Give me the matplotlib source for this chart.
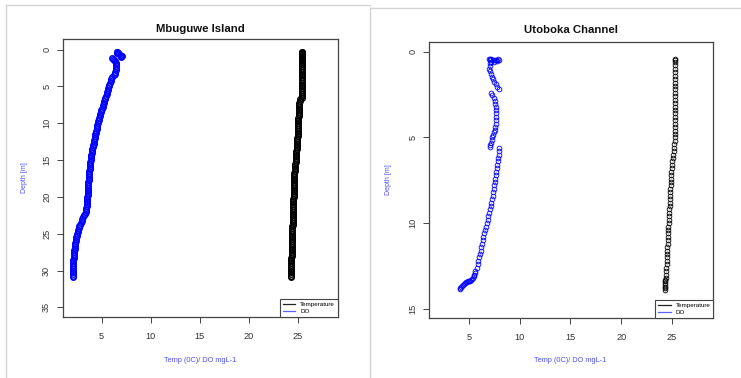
import matplotlib
matplotlib.use("Agg")
import matplotlib.pyplot as plt
from matplotlib.lines import Line2D

plt.rcParams['font.family'] = ['Liberation Sans', 'DejaVu Sans']

# ---------------- data: Mbuguwe Island ----------------
mb_depth = [0.30, 0.35, 0.40, 0.45, 0.50, 0.60, 0.70, 0.80, 0.90, 1.00, 1.10, 1.20, 1.35, 1.50,
            1.75, 2.00, 2.25, 2.50, 2.75, 3.00, 3.25, 3.50, 3.75, 4.00, 4.25, 4.50, 4.75, 5.00,
            5.25, 5.50, 5.75, 6.00, 6.25, 6.50, 6.75, 7.00, 7.25, 7.50, 7.75, 8.00, 8.25, 8.50,
            8.75, 9.00, 9.25, 9.50, 9.75, 10.00, 10.25, 10.50, 10.75, 11.00, 11.25, 11.50, 11.75,
            12.00, 12.25, 12.50, 12.75, 13.00, 13.25, 13.50, 13.75, 14.00, 14.25, 14.50, 14.75,
            15.00, 15.25, 15.50, 15.75, 16.00, 16.25, 16.50, 16.75, 17.00, 17.25, 17.50, 17.75,
            18.00, 18.25, 18.50, 18.75, 19.00, 19.25, 19.50, 19.75, 20.00, 20.25, 20.50, 20.75,
            21.00, 21.25, 21.50, 21.75, 22.00, 22.25, 22.50, 22.75, 23.00, 23.25, 23.50, 23.75,
            24.00, 24.25, 24.50, 24.75, 25.00, 25.25, 25.50, 25.75, 26.00, 26.25, 26.50, 26.75,
            27.00, 27.25, 27.50, 27.75, 28.00, 28.25, 28.50, 28.75, 29.00, 29.25, 29.50, 29.75,
            30.00, 30.25, 30.50, 30.75, 30.90]
mb_do = [6.55, 6.60, 6.55, 6.62, 6.65, 6.75, 6.88, 7.00, 7.05, 6.95, 6.10, 6.15, 6.28, 6.38,
         6.45, 6.50, 6.50, 6.48, 6.45, 6.40, 6.32, 6.22, 6.10, 6.00, 5.92, 5.85, 5.78, 5.72,
         5.66, 5.61, 5.55, 5.50, 5.45, 5.39, 5.34, 5.28, 5.22, 5.16, 5.10, 5.04, 4.98, 4.92,
         4.86, 4.80, 4.75, 4.70, 4.65, 4.60, 4.56, 4.52, 4.49, 4.45, 4.41, 4.37, 4.34,
         4.30, 4.26, 4.22, 4.17, 4.13, 4.09, 4.05, 4.02, 3.98, 3.95, 3.93, 3.90,
         3.88, 3.86, 3.84, 3.82, 3.80, 3.78, 3.76, 3.74, 3.72, 3.70, 3.69, 3.67,
         3.66, 3.64, 3.63, 3.61, 3.60, 3.59, 3.57, 3.56, 3.55, 3.54, 3.52, 3.51,
         3.50, 3.48, 3.45, 3.42, 3.38, 3.30, 3.20, 3.11, 3.02, 2.95, 2.88, 2.80,
         2.72, 2.66, 2.60, 2.55, 2.50, 2.46, 2.43, 2.39, 2.36, 2.33, 2.30, 2.28,
         2.25, 2.23, 2.20, 2.18, 2.16, 2.14, 2.13, 2.11, 2.10, 2.09, 2.07, 2.06,
         2.05, 2.05, 2.04, 2.04, 2.03]
mb_temp = [25.45, 25.45, 25.45, 25.45, 25.45, 25.45, 25.45, 25.45, 25.45, 25.45, 25.45, 25.45, 25.45, 25.45,
           25.45, 25.45, 25.45, 25.45, 25.45, 25.45, 25.45, 25.45, 25.45, 25.45, 25.45, 25.45, 25.45, 25.45,
           25.45, 25.45, 25.45, 25.45, 25.45, 25.40, 25.25, 25.18, 25.16, 25.15, 25.14, 25.12, 25.11, 25.10,
           25.09, 25.08, 25.07, 25.06, 25.05, 25.03, 25.02, 25.02, 25.01, 25.00, 24.99, 24.99, 24.98,
           24.97, 24.96, 24.95, 24.94, 24.93, 24.91, 24.88, 24.86, 24.85, 24.84, 24.82, 24.80,
           24.78, 24.77, 24.75, 24.73, 24.72, 24.70, 24.68, 24.66, 24.65, 24.63, 24.62, 24.61,
           24.61, 24.60, 24.60, 24.59, 24.59, 24.58, 24.58, 24.57, 24.57, 24.56, 24.56, 24.55,
           24.54, 24.53, 24.53, 24.52, 24.51, 24.51, 24.50, 24.49, 24.49, 24.48, 24.47, 24.47,
           24.46, 24.46, 24.45, 24.45, 24.44, 24.44, 24.43, 24.43, 24.43, 24.42, 24.42, 24.41,
           24.40, 24.39, 24.38, 24.37, 24.36, 24.35, 24.33, 24.32, 24.31, 24.30, 24.30, 24.30,
           24.30, 24.30, 24.30, 24.30, 24.30]

# ---------------- data: Utoboka Channel ----------------
ut_do_depth = [0.45, 0.42, 0.45, 0.48, 0.50, 0.48, 0.45, 0.47, 0.55, 0.58, 0.60, 0.50,
               0.68, 0.85, 1.00, 1.15, 1.30, 1.45, 1.60, 1.75, 1.90, 2.05, 2.20,
               2.39, 2.55, 2.72, 2.90, 3.05, 3.20, 3.40, 3.60, 3.80, 4.00, 4.20, 4.40, 4.55,
               4.70, 4.85, 5.00, 5.15, 5.30, 5.45, 5.54,
               5.60, 5.80, 6.00, 6.20, 6.40, 6.60, 6.80, 7.00, 7.20, 7.40, 7.60, 7.80, 8.00,
               8.20, 8.40, 8.60, 8.80, 9.00, 9.20, 9.40, 9.60, 9.80, 10.00, 10.20, 10.40, 10.60,
               10.80, 11.00, 11.20, 11.40, 11.60, 11.80, 12.00, 12.20, 12.40, 12.60, 12.80, 12.90,
               13.00, 13.10, 13.20, 13.25, 13.30, 13.35, 13.38, 13.40, 13.42, 13.45, 13.50, 13.55,
               13.60, 13.65, 13.72, 13.80, 13.86]
ut_do = [7.00, 7.10, 7.20, 7.35, 7.50, 7.65, 7.80, 7.95, 7.70, 7.40, 7.20, 7.05,
         7.07, 7.02, 7.00, 7.05, 7.12, 7.22, 7.32, 7.45, 7.60, 7.78, 7.98,
         7.14, 7.27, 7.40, 7.50, 7.58, 7.63, 7.66, 7.68, 7.66, 7.63, 7.60, 7.55, 7.50,
         7.44, 7.36, 7.28, 7.22, 7.15, 7.09, 7.06,
         7.99, 7.95, 7.92, 7.88, 7.82, 7.76, 7.71, 7.67, 7.62, 7.58, 7.53, 7.47, 7.42,
         7.36, 7.30, 7.24, 7.18, 7.11, 7.05, 6.98, 6.90, 6.82, 6.74, 6.66, 6.58, 6.50,
         6.41, 6.34, 6.27, 6.20, 6.13, 6.06, 5.98, 5.90, 5.82, 5.73, 5.62, 5.57,
         5.50, 5.43, 5.33, 5.25, 5.15, 5.05, 4.95, 4.85, 4.75, 4.65, 4.55, 4.45,
         4.35, 4.27, 4.20, 4.12, 4.08]
ut_t_depth = [0.40, 0.50, 0.60, 0.80, 1.00, 1.20, 1.40, 1.60, 1.80, 2.00, 2.20, 2.40, 2.60,
              2.80, 3.00, 3.20, 3.40, 3.60, 3.80, 4.00, 4.20, 4.40, 4.60, 4.80, 5.00, 5.20,
              5.40, 5.60, 5.80, 6.00, 6.20, 6.40, 6.60, 6.80, 7.00, 7.20, 7.40, 7.60, 7.80,
              8.00, 8.20, 8.40, 8.60, 8.80, 9.00, 9.20, 9.40, 9.60, 9.80, 10.00, 10.20, 10.40,
              10.60, 10.80, 11.00, 11.20, 11.40, 11.60, 11.80, 12.00, 12.20, 12.40, 12.60,
              12.80, 13.00, 13.20, 13.30, 13.40, 13.50, 13.60, 13.70, 13.80, 13.90]
ut_temp = [25.30, 25.30, 25.30, 25.30, 25.30, 25.30, 25.30, 25.30, 25.30, 25.30, 25.30, 25.30, 25.30,
           25.30, 25.30, 25.30, 25.30, 25.30, 25.30, 25.30, 25.30, 25.30, 25.30, 25.30, 25.30, 25.28,
           25.25, 25.21, 25.18, 25.14, 25.10, 25.05, 25.01, 24.98, 24.96, 24.93, 24.91, 24.90, 24.88,
           24.86, 24.85, 24.83, 24.82, 24.80, 24.78, 24.75, 24.73, 24.71, 24.70, 24.68, 24.66, 24.65,
           24.63, 24.62, 24.60, 24.58, 24.56, 24.55, 24.53, 24.51, 24.49, 24.48, 24.46,
           24.44, 24.41, 24.39, 24.38, 24.37, 24.37, 24.36, 24.36, 24.36, 24.36]

x_ticks = [5, 10, 15, 20, 25]
mb_y_ticks = [0, 5, 10, 15, 20, 25, 30, 35]
ut_y_ticks = [0, 5, 10, 15]

W, H = 741, 378
fig = plt.figure(figsize=(W / 100, H / 100), dpi=100)


def px_rect(x0, y0, x1, y1):
    return [x0 / W, 1 - y1 / H, (x1 - x0) / W, (y1 - y0) / H]


label_blue = '#5050ff'


def draw_panel(rect, depth_do, do, depth_t, temp, yticks, ylim, title, title_xy, ylab_xy, xlab_xy,
               msize, mew):
    ax = fig.add_axes(px_rect(*rect))
    ax.plot(temp, depth_t, linestyle='none', marker='o', markersize=msize,
            markerfacecolor='none', markeredgecolor='black', markeredgewidth=mew)
    ax.plot(do, depth_do, linestyle='none', marker='o', markersize=msize,
            markerfacecolor='none', markeredgecolor='blue', markeredgewidth=mew)
    ax.set_xlim(1.06, 29.1)
    ax.set_ylim(*ylim)
    ax.set_xticks(x_ticks)
    ax.set_yticks(yticks)
    for s in ax.spines.values():
        s.set_color('#444444')
        s.set_linewidth(0.9)
    ax.tick_params(axis='both', direction='out', length=4.5, width=0.7, color='#444444',
                   labelsize=6.6, labelcolor='#333333')
    ax.tick_params(axis='x', pad=6.0)
    ax.tick_params(axis='y', pad=4.0)
    for lab in ax.get_yticklabels():
        lab.set_rotation(90)
        lab.set_va('center')
    handles = [Line2D([], [], color='#222222', lw=0.9),
               Line2D([], [], color='#6060ff', lw=0.9)]
    leg = ax.legend(handles, ['Temperature', 'DO'], loc='lower right', bbox_to_anchor=(1, 0),
                    borderaxespad=0, fontsize=4.5, frameon=True, fancybox=False,
                    edgecolor='#444444', framealpha=1, handlelength=2.0, handletextpad=0.8,
                    borderpad=0.45, labelspacing=0.3)
    leg.get_frame().set_linewidth(0.8)
    fig.text(title_xy[0] / W, 1 - title_xy[1] / H, title, ha='center', va='center',
             fontsize=8.2, fontweight='bold', color='#111111')
    fig.text(ylab_xy[0] / W, 1 - ylab_xy[1] / H, 'Depth [m]', ha='center', va='center',
             rotation=90, fontsize=5, color=label_blue)
    fig.text(xlab_xy[0] / W, 1 - xlab_xy[1] / H, 'Temp (0C)/ DO mgL-1', ha='center', va='center',
             fontsize=5.3, color=label_blue)
    return ax


draw_panel((63, 39, 338, 317), mb_depth, mb_do, mb_depth, mb_temp, mb_y_ticks, (36.3, -1.45),
           'Mbuguwe Island', (200, 28.7), (24.3, 178), (200, 360), 4.0, 1.0)
draw_panel((429.3, 41.7, 713.3, 318.3), ut_do_depth, ut_do, ut_t_depth, ut_temp, ut_y_ticks,
           (15.55, -0.58), 'Utoboka Channel', (570.5, 30.3), (389, 180), (570, 360.7), 3.4, 0.6)

# light grey panel frames
grey = '#d4d4d4'
fig.add_artist(Line2D([5.5 / W, 370 / W], [1 - 5.0 / H, 1 - 5.0 / H], color=grey, lw=1.0))
fig.add_artist(Line2D([5.8 / W, 5.8 / W], [1 - 5.0 / H, 0], color=grey, lw=1.0))
fig.add_artist(Line2D([370 / W, 741 / W], [1 - 7.5 / H, 1 - 7.5 / H], color=grey, lw=1.0))
fig.add_artist(Line2D([370 / W, 370 / W], [1 - 7.5 / H, 0], color=grey, lw=1.0))

fig.savefig('out.png', dpi=100)
